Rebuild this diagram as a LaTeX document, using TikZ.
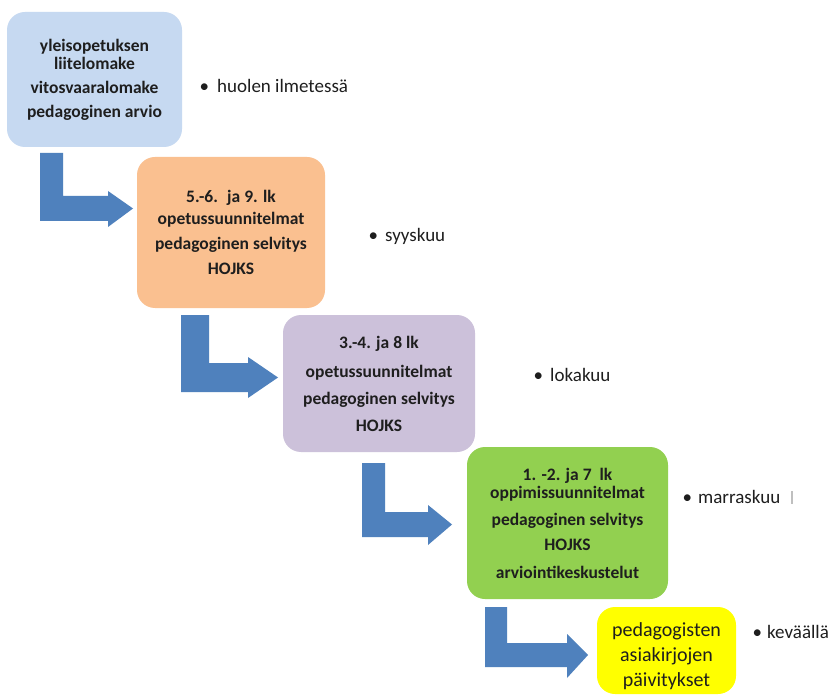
\documentclass[tikz,border=0pt]{standalone}
\usepackage{fontspec}
\setmainfont{Carlito}
\definecolor{arrblue}{HTML}{4F81BD}
\definecolor{boxblue}{HTML}{C6D9F1}
\definecolor{boxorange}{HTML}{FAC090}
\definecolor{boxpurple}{HTML}{CCC1DA}
\definecolor{boxgreen}{HTML}{92D050}
\definecolor{boxyellow}{HTML}{FFFF00}
\definecolor{txt}{HTML}{1E1E1E}
\tikzset{
  stagebox/.style={rounded corners=18pt, inner sep=0pt, align=center, text=txt,
    font=\bfseries\fontsize{17.5}{18}\selectfont},
  bentarrow/.style={fill=arrblue, draw=none},
  bulletlabel/.style={anchor=base west, inner sep=0pt, text=txt,
    font=\fontsize{19}{22}\selectfont},
}
\begin{document}
\begin{tikzpicture}[x=1pt,y=-1pt]
\useasboundingbox (0,0) rectangle (837,700);
\fill[white] (0,0) rectangle (837,700);

% boxes
\node[stagebox, fill=boxblue, minimum width=175pt, minimum height=135pt] (b1) at (94.5,79.5)
  {yleisopetuksen\\ liitelomake\\[6pt] vitosvaaralomake\\[6pt] pedagoginen arvio};
\node[stagebox, fill=boxorange, minimum width=188pt, minimum height=151pt] (b2) at (231,232.5)
  {5.-6.~ ja 9. lk\\[4pt] opetussuunnitelmat\\[7pt] pedagoginen selvitys\\[7pt] HOJKS};
\node[stagebox, fill=boxpurple, minimum width=192pt, minimum height=137pt] (b3) at (379,383.5)
  {3.-4. ja 8 lk\\[11pt] opetussuunnitelmat\\[9pt] pedagoginen selvitys\\[9pt] HOJKS};
\node[stagebox, fill=boxgreen, minimum width=201pt, minimum height=152pt] (b4) at (567.5,523)
  {1. -2. ja 7~ lk\\ oppimissuunnitelmat\\[9pt] pedagoginen selvitys\\[7pt] HOJKS\\[10pt] arviointikeskustelut};
\node[stagebox, fill=boxyellow, minimum width=139pt, minimum height=87pt,
  font=\fontsize{20}{25}\selectfont] (b5) at (666.5,650.5)
  {\rule{0pt}{26pt}pedagogisten\\ asiakirjojen\\ päivitykset};

% bent arrows
\fill[bentarrow] (40,153) -- (63,153) -- (63,196) -- (108,196) -- (108,191) -- (133,208.5)
  -- (108,227) -- (108,221) -- (40,221) -- cycle;
\fill[bentarrow] (181,315) -- (209,315) -- (209,363) -- (248,363) -- (248,357) -- (278,377.5)
  -- (248,398) -- (248,392) -- (181,392) -- cycle;
\fill[bentarrow] (362,463) -- (385,463) -- (385,512) -- (428,512) -- (428,505) -- (452,524.5)
  -- (428,545) -- (428,537) -- (362,537) -- cycle;
\fill[bentarrow] (485,607) -- (507,607) -- (507,643) -- (567,643) -- (567,634) -- (588,655)
  -- (567,678) -- (567,667) -- (485,667) -- cycle;

% bullet labels
\node[bulletlabel] (l1) at (217,93) {\llap{•\hspace{8pt}}huolen ilmetessä};
\node[bulletlabel] (l2) at (385,242) {\llap{•\hspace{7pt}}syyskuu};
\node[bulletlabel] (l3) at (550,381) {\llap{•\hspace{7pt}}lokakuu};
\node[bulletlabel] (l4) at (698,503) {\llap{•\hspace{6pt}}marraskuu};
\node[bulletlabel] (l5) at (767,638) {\llap{•\hspace{5pt}}keväällä};
\draw[black!25, line width=1.2pt] (792,491) -- (792,504);
\end{tikzpicture}
\end{document}
